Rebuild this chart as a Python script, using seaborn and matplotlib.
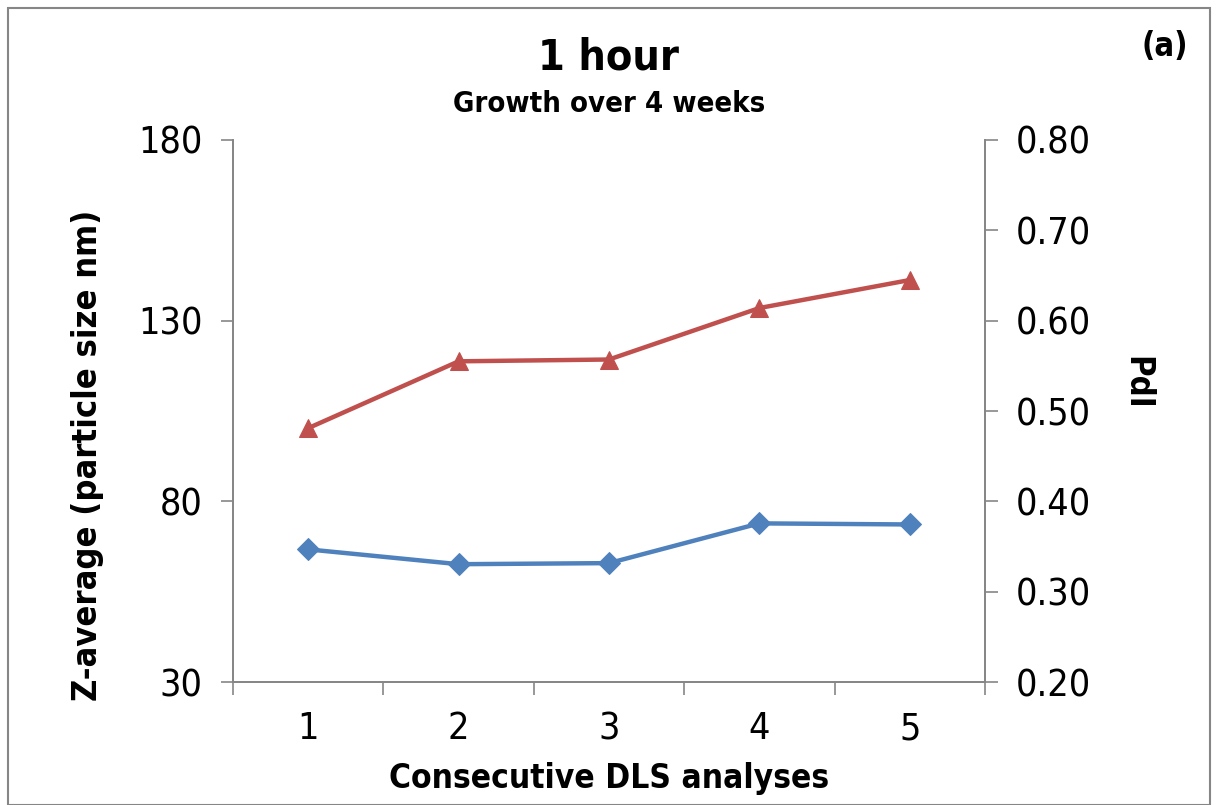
import matplotlib
matplotlib.use("Agg")
import matplotlib.pyplot as plt
import seaborn as sns
import numpy as np
from matplotlib.patches import Rectangle

# data
runs = [1, 2, 3, 4, 5]
z_average = [66.7, 62.6, 62.9, 73.9, 73.6]      # left axis, blue diamonds
pdi = [0.481, 0.555, 0.557, 0.614, 0.645]        # right axis, red triangles
z_ticks = [30, 80, 130, 180]
pdi_ticks = [0.20, 0.30, 0.40, 0.50, 0.60, 0.70, 0.80]

sns.set_theme(style="white")
plt.rcParams['font.family'] = ['DejaVu Sans']
plt.rcParams['font.stretch'] = 'condensed'
plt.rcParams['text.color'] = 'black'

blue = '#4F81BD'
red = '#C0504D'
grey = '#868686'

fig = plt.figure(figsize=(12.19, 8.05), dpi=100)
ax = fig.add_axes([233/1219, 1-682/805, (985-233)/1219, (682-140)/805])
ax2 = ax.twinx()

sns.lineplot(x=runs, y=z_average, ax=ax, color=blue, marker='D', markersize=11,
             markeredgecolor=blue, linewidth=3.2)
sns.lineplot(x=runs, y=pdi, ax=ax2, color=red, marker='^', markersize=13,
             markeredgecolor=red, linewidth=3.2)

ax.set_xlim(0.5, 5.5)
ax.set_ylim(30, 180)
ax2.set_ylim(0.20, 0.80)
ax.set_yticks(z_ticks)
ax.set_yticklabels([str(t) for t in z_ticks])
ax2.set_yticks(pdi_ticks)
ax2.set_yticklabels(['%.2f' % t for t in pdi_ticks])

# category ticks between the points, labels at the points
ax.set_xticks(np.arange(0.5, 6, 1.0))
ax.set_xticklabels([])
ax.set_xticks(runs, minor=True)
ax.set_xticklabels([str(r) for r in runs], minor=True)
ax.tick_params(axis='x', which='major', length=9, width=1.2, color=grey, direction='out', bottom=True)
ax.tick_params(axis='x', which='minor', length=0, labelsize=27, pad=21, bottom=True, labelcolor='black')
ax.tick_params(axis='y', length=9, width=1.2, color=grey, direction='out', left=True, labelsize=27, pad=13,
               labelcolor='black')
ax2.tick_params(axis='y', length=9, width=1.2, color=grey, direction='out', right=True, labelsize=27, pad=13,
                labelcolor='black')

for a in (ax, ax2):
    for s in ['left', 'right', 'bottom']:
        a.spines[s].set_color(grey)
        a.spines[s].set_linewidth(1.3)
    a.spines['top'].set_visible(False)
    a.grid(False)

ax.set_xlabel('')
ax.set_ylabel('')
ax2.set_ylabel('')

fig.text(88/1219, 1-455/805, 'Z-average (particle size nm)', rotation=90, ha='center', va='center',
         fontsize=24.7, fontweight='bold')
fig.text(1137/1219, 1-383/805, 'PdI', rotation=-90, ha='center', va='center',
         fontsize=23.5, fontweight='bold')
fig.text(609/1219, 1-778/805, 'Consecutive DLS analyses', ha='center', va='center',
         fontsize=24, fontweight='bold')
fig.text(609/1219, 1-58/805, '1 hour', ha='center', va='center', fontsize=31, fontweight='bold')
fig.text(609/1219, 1-104/805, 'Growth over 4 weeks', ha='center', va='center', fontsize=21, fontweight='bold')
fig.text(1165/1219, 1-47/805, '(a)', ha='center', va='center', fontsize=23.5, fontweight='bold')

fig.patches.append(Rectangle((8/1219, 0), 1202/1219, 1-8/805, transform=fig.transFigure,
                             fill=False, edgecolor=grey, linewidth=1.5))

fig.savefig('out.png', dpi=100)
